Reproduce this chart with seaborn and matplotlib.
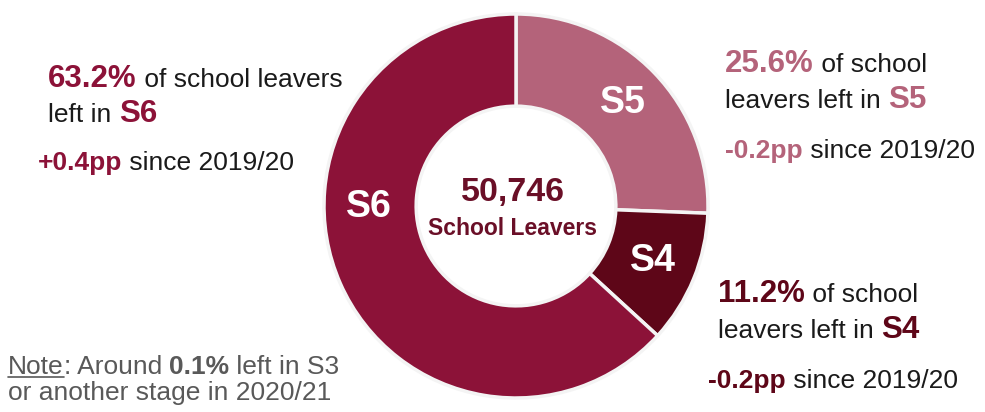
import matplotlib
matplotlib.use("Agg")
import matplotlib.pyplot as plt
import numpy as np
import seaborn as sns

# data
stages = ["S5", "S4", "S6"]
shares = [25.6, 11.2, 63.2]
changes = ["-0.2pp", "-0.2pp", "+0.4pp"]
stage_colors = ["#B4637A", "#5E0618", "#8C1238"]
total_leavers = 50746
other_share = 0.1

sns.set_theme(style="white")
plt.rcParams["font.family"] = ["Liberation Sans", "DejaVu Sans"]

W, H = 985, 412
fig = plt.figure(figsize=(W / 100, H / 100), dpi=100)
ax = fig.add_axes([0, 0, 1, 1])

# donut in pixel coordinates (y measured from the bottom)
cx, cy, R = 516, H - 206, 192
wedges, _ = ax.pie(shares, colors=stage_colors, startangle=90, counterclock=False,
                   center=(cx, cy), radius=R, frame=True,
                   wedgeprops=dict(width=R * 0.48, edgecolor="#f4f4f4", linewidth=2.5))
ax.set_xlim(0, W)
ax.set_ylim(0, H)
ax.set_aspect("equal")
ax.axis("off")

# stage labels inside the ring
mid_r = R - R * 0.48 / 2
for w, lab in zip(wedges, stages):
    ang = (w.theta1 + w.theta2) / 2
    if lab == "S6":
        ang = 180.5
    ax.text(cx + mid_r * np.cos(np.radians(ang)) + (2 if lab != "S6" else -1),
            cy + mid_r * np.sin(np.radians(ang)) + (2 if lab == "S5" else 0), lab,
            ha="center", va="center", color="white", fontsize=27, fontweight="bold")

# centre text
ax.text(cx - 3, H - 192, f"{total_leavers:,}", ha="center", va="center",
        color="#6A0F27", fontsize=24.5, fontweight="bold")
ax.text(cx - 3, H - 228, "School Leavers", ha="center", va="center",
        color="#6A0F27", fontsize=16.5, fontweight="bold")

FS = 19
BIG = 22.5
renderer = fig.canvas.get_renderer()


def line(x, base, parts):
    # parts: (text, colour, weight, size); placed left to right on one baseline
    out = []
    for txt, col, wt, sz in parts:
        t = ax.text(x, H - base, txt, ha="left", va="baseline", color=col,
                    fontsize=sz, fontweight=wt)
        x = t.get_window_extent(renderer=renderer).x1
        out.append(t)
    return out


K = "#1a1a1a"
c5, c4, c6 = stage_colors

# S6 block (left)
line(48, 87, [(f"{shares[2]}%", c6, "bold", BIG), (" of school leavers", K, "normal", FS)])
line(48, 122, [("left in ", K, "normal", FS), ("S6", c6, "bold", BIG)])
line(38, 170, [(changes[2], c6, "bold", FS), (" since 2019/20", K, "normal", FS)])

# S5 block (top right)
line(725, 72, [(f"{shares[0]}%", c5, "bold", BIG), (" of school", K, "normal", FS)])
line(725, 108, [("leavers left in ", K, "normal", FS), ("S5", c5, "bold", BIG)])
line(725, 158, [(changes[0], c5, "bold", FS), (" since 2019/20", K, "normal", FS)])

# S4 block (bottom right)
line(718, 302, [(f"{shares[1]}%", c4, "bold", BIG), (" of school", K, "normal", FS)])
line(718, 338, [("leavers left in ", K, "normal", FS), ("S4", c4, "bold", BIG)])
line(708, 388, [(changes[1], c4, "bold", FS), (" since 2019/20", K, "normal", FS)])

# note
G = "#595959"
note = line(8, 374, [("Note", G, "normal", FS), (": Around ", G, "normal", FS),
                     (f"{other_share}%", G, "bold", FS), (" left in S3", G, "normal", FS)])
line(8, 400, [("or another stage in 2020/21", G, "normal", FS)])

# underline "Note"
bb = note[0].get_window_extent(renderer=renderer)
ax.plot([bb.x0, bb.x1], [H - 377, H - 377], color=G, lw=1.2)

fig.savefig("out.png", dpi=100)
